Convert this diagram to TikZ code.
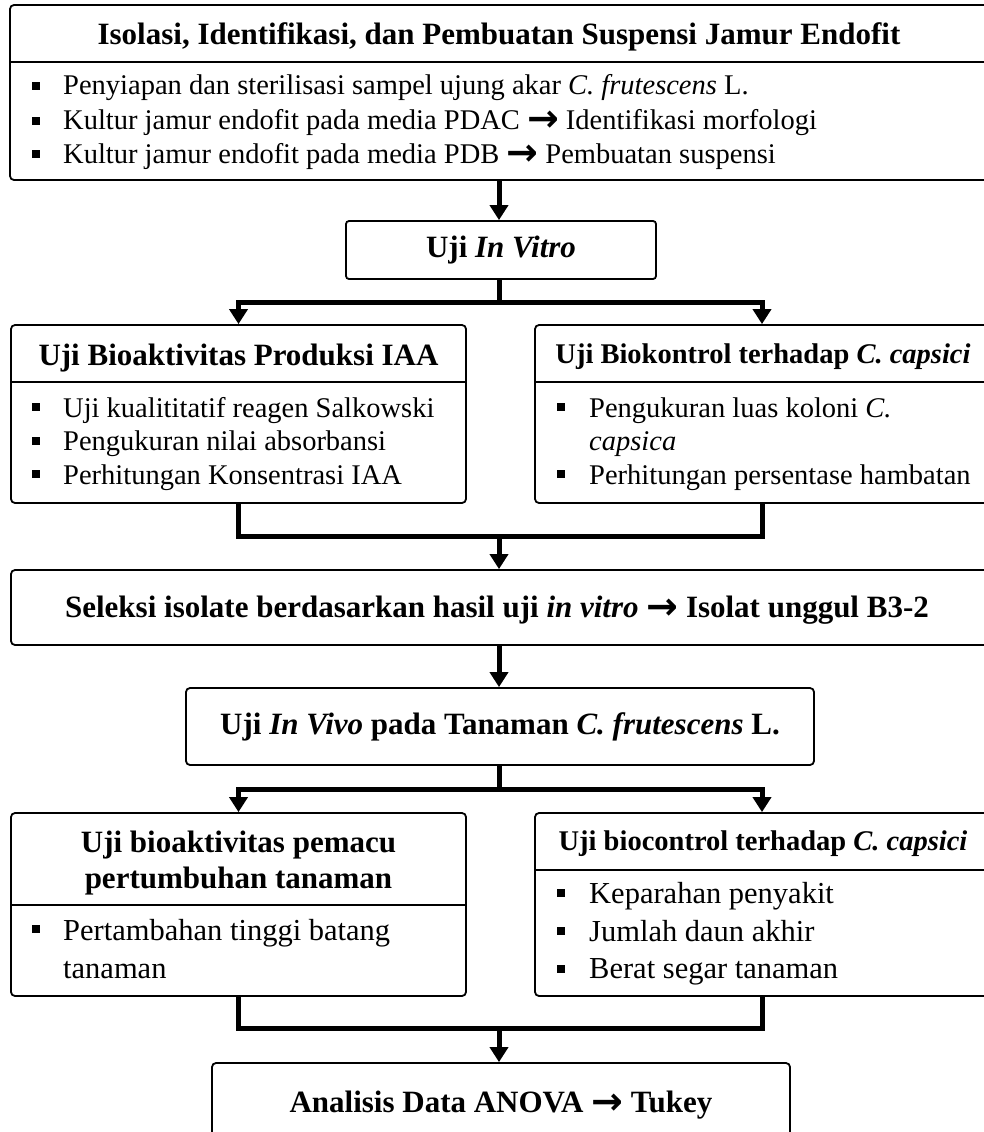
\documentclass[tikz,border=0pt]{standalone}
\usepackage{fontspec}
\setmainfont{Liberation Serif}
\newfontfamily\arrowfont{DejaVu Sans}
\usetikzlibrary{arrows.meta}
\newcommand\myfs{\fontsize{28.5}{34}\selectfont}
\newcommand\myfsb{\fontsize{30.5}{34}\selectfont}
\newcommand\myfst{\fontsize{31}{36}\selectfont}
\newcommand\myfss{\fontsize{28.5}{34}\selectfont}
\newcommand\rarr{\raisebox{-2pt}{\arrowfont\bfseries\fontsize{38}{38}\selectfont →}}
\begin{document}
\begin{tikzpicture}[x=1pt,y=-1pt,
  box/.style={draw,line width=1.8pt,rounded corners=4pt,inner sep=0pt},
  divider/.style={line width=1.8pt},
  conn/.style={line width=5pt},
  arr/.style={line width=5pt,-{Triangle[width=18pt,length=15pt]}},
  txt/.style={font=\myfs,inner sep=0pt,anchor=base west},
  txtb/.style={font=\myfsb,inner sep=0pt,anchor=base west},
  ttl/.style={font=\myfst\bfseries,inner sep=0pt,anchor=base},
  ttls/.style={font=\myfss\bfseries,inner sep=0pt,anchor=base},
  sq/.style={fill=black,minimum size=8pt,inner sep=0pt}]
\useasboundingbox (0,0) rectangle (984,1132);

% ---------- top box ----------
\node[box,minimum width=978pt,minimum height=175pt] (top) at (499,92.5) {};
\draw[divider] (10,62) -- (988,62);
\node[ttl] (topt) at (499,45) {Isolasi, Identifikasi, dan Pembuatan Suspensi Jamur Endofit};
\node[sq] (tb1) at (36,86) {};
\node[txt] (tl1) at (63,95) {Penyiapan dan sterilisasi sampel ujung akar \textit{C. frutescens} L.};
\node[sq] (tb2) at (36,121) {};
\node[txt] (tl2) at (63,129) {Kultur jamur endofit pada media PDAC \rarr{} Identifikasi morfologi};
\node[sq] (tb3) at (36,154) {};
\node[txt] (tl3) at (63,163) {Kultur jamur endofit pada media PDB \rarr{} Pembuatan suspensi};

% ---------- in vitro ----------
\node[box,rounded corners=3pt,minimum width=310pt,minimum height=58pt,font=\myfst\bfseries] (vitro) at (501,250) {Uji \textit{In Vitro}};
\draw[arr] (top.south -| 499,0) -- (vitro.north -| 499,0);

% ---------- level 1 boxes ----------
\node[box,minimum width=455pt,minimum height=178pt] (bioL) at (238.5,414) {};
\draw[divider] (11,382) -- (466,382);
\node[ttl] (bioLt) at (238.5,365) {Uji Bioaktivitas Produksi IAA};
\node[sq] (lb1) at (36,407) {};
\node[txt] (ll1) at (63,417) {Uji kualititatif reagen Salkowski};
\node[sq] (lb2) at (36,441) {};
\node[txt] (ll2) at (63,450) {Pengukuran nilai absorbansi};
\node[sq] (lb3) at (36,474) {};
\node[txt] (ll3) at (63,484) {Perhitungan Konsentrasi IAA};

\node[box,minimum width=454pt,minimum height=178pt] (bioR) at (762,414) {};
\draw[divider] (535,382) -- (989,382);
\node[ttls] (bioRt) at (763,363) {Uji Biokontrol terhadap \textit{C. capsici}};
\node[sq] (rb1) at (561,407) {};
\node[txt] (rl1) at (589,417) {Pengukuran luas koloni \textit{C.}};
\node[txt] (rl1b) at (589,450) {\textit{capsica}};
\node[sq] (rb2) at (561,474) {};
\node[txt] (rl2) at (589,484) {Perhitungan persentase hambatan};

\coordinate (s1) at (499,302);
\draw[arr] (vitro.south -| s1) -- (s1) -| (bioL.north);
\draw[arr] (s1) -| (bioR.north);

% ---------- seleksi ----------
\node[box,minimum width=978pt,minimum height=75pt] (sel) at (500,607.5) {};
\node[ttl] (selt) at (497,617) {Seleksi isolate berdasarkan hasil uji \textit{in vitro} \rarr{} Isolat unggul B3-2};
\coordinate (m1) at (499,536);
\draw[conn] (bioL.south) |- (m1) -| (bioR.south);
\draw[arr] (m1) -- (sel.north -| m1);

% ---------- in vivo ----------
\node[box,minimum width=628pt,minimum height=77pt,font=\myfst\bfseries] (vivo) at (500,726.5) {Uji \textit{In Vivo} pada Tanaman \textit{C. frutescens} L.};
\draw[arr] (sel.south -| 499,0) -- (vivo.north -| 499,0);

% ---------- level 2 boxes ----------
\node[box,minimum width=455pt,minimum height=183pt] (grL) at (238.5,904.5) {};
\draw[divider] (11,905) -- (466,905);
\node[ttl] (grLt1) at (238.5,852) {Uji bioaktivitas pemacu};
\node[ttl] (grLt2) at (238.5,888) {pertumbuhan tanaman};
\node[sq] (glb1) at (36,929) {};
\node[txtb] (gll1) at (63,940) {Pertambahan tinggi batang};
\node[txtb] (gll1b) at (63,978) {tanaman};

\node[box,minimum width=454pt,minimum height=183pt] (grR) at (762,904.5) {};
\draw[divider] (535,870) -- (989,870);
\node[ttls] (grRt) at (763,850) {Uji biocontrol terhadap \textit{C. capsici}};
\node[sq] (grb1) at (561,893) {};
\node[txtb] (grl1) at (589,903) {Keparahan penyakit};
\node[sq] (grb2) at (561,931) {};
\node[txtb] (grl2) at (589,941) {Jumlah daun akhir};
\node[sq] (grb3) at (561,969) {};
\node[txtb] (grl3) at (589,978) {Berat segar tanaman};

\coordinate (s2) at (499,789);
\draw[arr] (vivo.south -| s2) -- (s2) -| (grL.north);
\draw[arr] (s2) -| (grR.north);

% ---------- final ----------
\node[box,minimum width=578pt,minimum height=84pt] (ana) at (501,1105) {};
\node[ttl] (anat) at (501,1112) {Analisis Data ANOVA \rarr{} Tukey};
\coordinate (m2) at (499,1028);
\draw[conn] (grL.south) |- (m2) -| (grR.south);
\draw[arr] (m2) -- (ana.north -| m2);
\end{tikzpicture}
\end{document}
